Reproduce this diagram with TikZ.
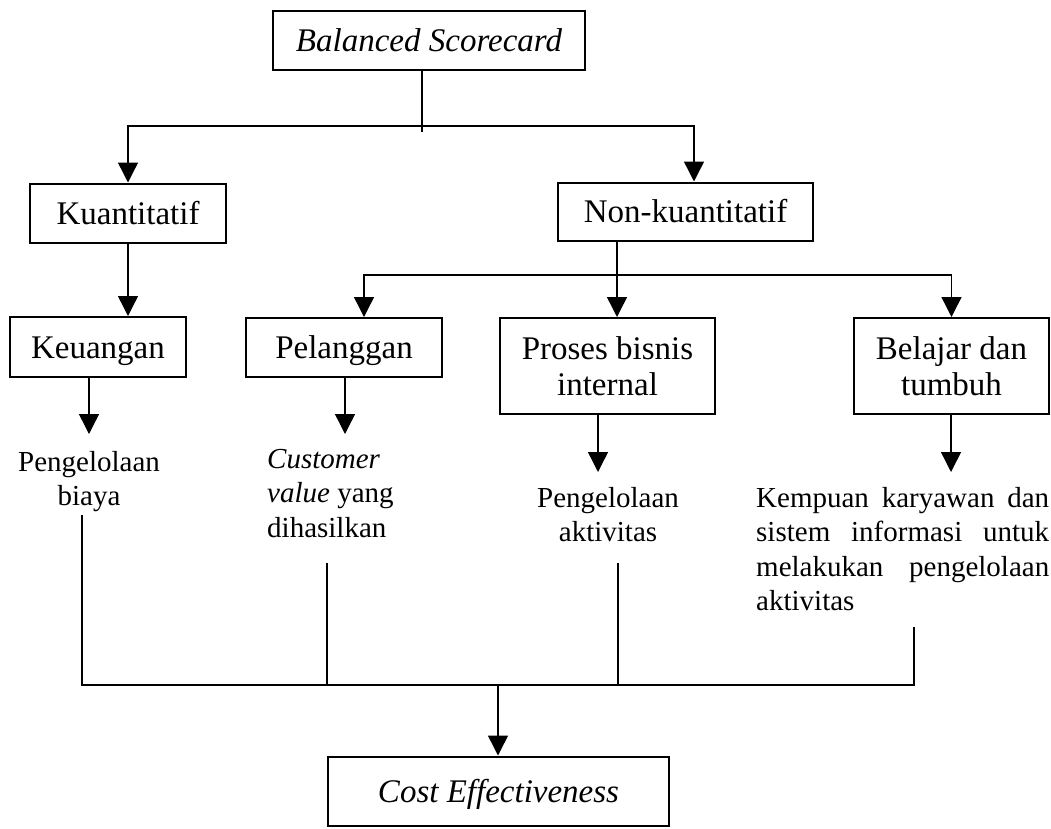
\documentclass[tikz,border=0pt]{standalone}
\usepackage{fontspec}
\setmainfont{Liberation Serif}
\usetikzlibrary{arrows.meta}
\newcommand\lblfont{\fontsize{33}{36}\selectfont}
\newcommand\notefont{\fontsize{29}{34.5}\selectfont}
\begin{document}
\begin{tikzpicture}[x=1pt,y=-1pt,
  box/.style={draw, line width=2pt, inner sep=0pt, align=center, font=\lblfont},
  onerow/.style={text height=22pt, text depth=0pt},
  note/.style={inner sep=0pt, font=\notefont},
  conn/.style={line width=1.4pt},
  arr/.style={conn, -{Triangle[length=20pt,width=20pt]}}]
\fill[white] (0,0) rectangle (1051,828);
\useasboundingbox (0,0) rectangle (1051,828);

% boxes
\node[box, onerow, minimum width=312pt, minimum height=59pt] (bsc) at (429,40) {\itshape Balanced Scorecard};
\node[box, onerow, minimum width=196pt, minimum height=59pt] (kuan) at (128,213) {Kuantitatif};
\node[box, onerow, minimum width=255pt, minimum height=58pt] (nonk) at (685.5,211.5) {Non-kuantitatif};
\node[box, onerow, minimum width=176pt, minimum height=60pt] (keu) at (98,347) {Keuangan};
\node[box, onerow, minimum width=196pt, minimum height=59pt] (pel) at (344,347.5) {Pelanggan};
\node[box, minimum width=215pt, minimum height=96pt] (pbi) at (607.5,366) {Proses bisnis\\internal};
\node[box, minimum width=195pt, minimum height=96pt] (bel) at (951.5,366) {Belajar dan\\tumbuh};
\node[box, onerow, minimum width=341pt, minimum height=69pt] (cost) at (498.5,791) {\itshape Cost Effectiveness};

% outcome texts
\node[note, anchor=north, align=center] (t1) at (89,451) {Pengelolaan\\biaya};
\node[note, anchor=north west, align=left] (t2) at (267,449) {\itshape Customer\\\itshape value\upshape{} yang\\dihasilkan};
\node[note, anchor=north, align=center] (t3) at (608,487) {Pengelolaan\\aktivitas};
\node[note, anchor=north west, align=left] (t4) at (756,487)
  {\makebox[293pt][s]{Kempuan karyawan dan}\\
   \makebox[293pt][s]{sistem informasi untuk}\\
   \makebox[293pt][s]{melakukan pengelolaan}\\
   aktivitas};

% junction points
\coordinate (j1) at (422,126);
\coordinate (j2) at (617,275);
\coordinate (a1) at (89,434);
\coordinate (a2) at (345,434);
\coordinate (a3) at (598,472);
\coordinate (a4) at (951,472);
\coordinate (d1) at (82,515);
\coordinate (d2) at (327,563);
\coordinate (d3) at (618,563);
\coordinate (d4) at (914,627);
\coordinate (m) at (498,685);

% top split
\draw[conn] (bsc.south -| j1) -- ([yshift=-6pt]j1);
\draw[arr] (j1) -| (kuan.north);
\draw[arr] (j1) -| ([xshift=8.5pt]nonk.north);

% quantitative branch
\draw[arr] (kuan.south) -- (kuan.south |- keu.north);

% non-quantitative branch
\draw[conn] (nonk.south -| j2) -- (j2);
\draw[arr] (j2) -| ([xshift=20pt]pel.north);
\draw[arr] (j2) -- (j2 |- pbi.north);
\draw[arr] (j2) -| (bel.north);

% boxes to outcomes
\draw[arr] (keu.south -| a1) -- (a1);
\draw[arr] (pel.south -| a2) -- (a2);
\draw[arr] (pbi.south -| a3) -- (a3);
\draw[arr] (bel.south -| a4) -- (a4);

% outcomes to cost effectiveness
\draw[conn] (d1) -- (d1 |- m) -- (d4 |- m) -- (d4);
\draw[conn] (d2) -- (d2 |- m);
\draw[conn] (d3) -- (d3 |- m);
\draw[arr] (m) -- (cost.north -| m);
\end{tikzpicture}
\end{document}
